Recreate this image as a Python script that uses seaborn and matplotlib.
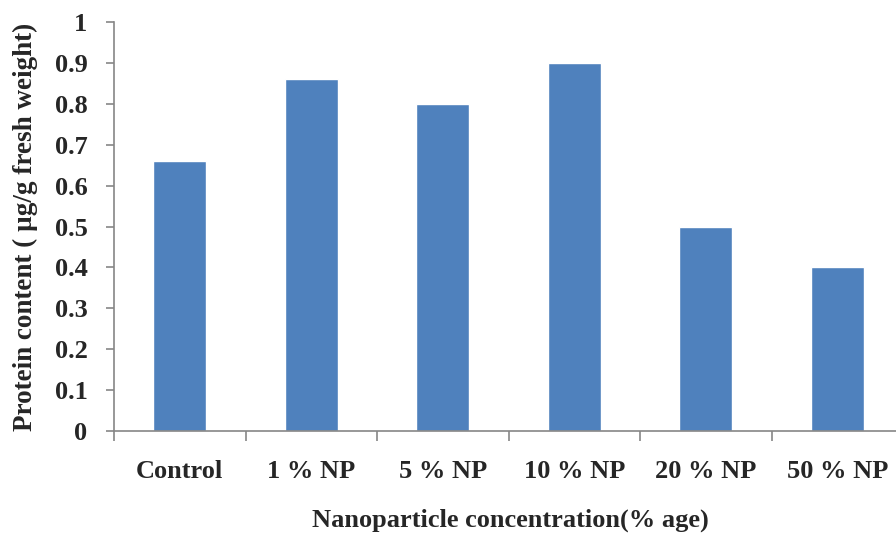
import matplotlib
matplotlib.use("Agg")
import matplotlib.pyplot as plt
import seaborn as sns
import pandas as pd

categories = ["Control", "1 % NP", "5 % NP", "10 % NP", "20 % NP", "50 % NP"]
protein = [0.66, 0.86, 0.80, 0.90, 0.50, 0.40]
y_ticks = [0, 0.1, 0.2, 0.3, 0.4, 0.5, 0.6, 0.7, 0.8, 0.9, 1]
y_tick_labels = ["0", "0.1", "0.2", "0.3", "0.4", "0.5", "0.6", "0.7", "0.8", "0.9", "1"]

df = pd.DataFrame({"cat": categories, "val": protein})

sns.set_theme(style="white")
plt.rcParams['font.family'] = ['Liberation Serif', 'DejaVu Serif']

fig = plt.figure(figsize=(8.96, 5.33), dpi=100)
W, H = 896, 533
left, right, top, bottom = 114, 903, 22, 431
aw, ah = right - left, bottom - top
ax = fig.add_axes([left / W, (H - bottom) / H, aw / W, ah / H])

sns.barplot(data=df, x="cat", y="val", color="#4F81BD", width=0.40, saturation=1, ax=ax)

ax.set_xlim(-0.5, 5.5)
ax.set_ylim(0, 1)
ax.set_yticks(y_ticks)
ax.set_yticklabels(y_tick_labels, fontsize=19, fontweight="bold")
ax.set_xticks(range(len(categories)))
ax.set_xticklabels(categories, fontsize=19, fontweight="bold")
ax.tick_params(axis="x", length=0, pad=21)
ax.tick_params(axis="y", length=6, width=1.2, color="#868686", direction="out", pad=13, left=True)

# boundary ticks on x axis
ax.set_xticks([i - 0.5 for i in range(len(categories) + 1)], minor=True)
ax.tick_params(axis="x", which="minor", length=7, width=1.2, color="#868686", direction="out", bottom=True)

for s in ["top", "right"]:
    ax.spines[s].set_visible(False)
for s in ["left", "bottom"]:
    ax.spines[s].set_color("#868686")
    ax.spines[s].set_linewidth(1.2)

ax.set_xlabel("Nanoparticle concentration(% age)", fontsize=19, fontweight="bold")
ax.set_ylabel("Protein content ( µg/g fresh weight)", fontsize=19.5, fontweight="bold")
ax.xaxis.set_label_coords((510 - left) / aw, -(509 - bottom) / ah)
ax.yaxis.set_label_coords((38 - left) / aw, (bottom - 227) / ah)

fig.savefig("out.png", dpi=100)
